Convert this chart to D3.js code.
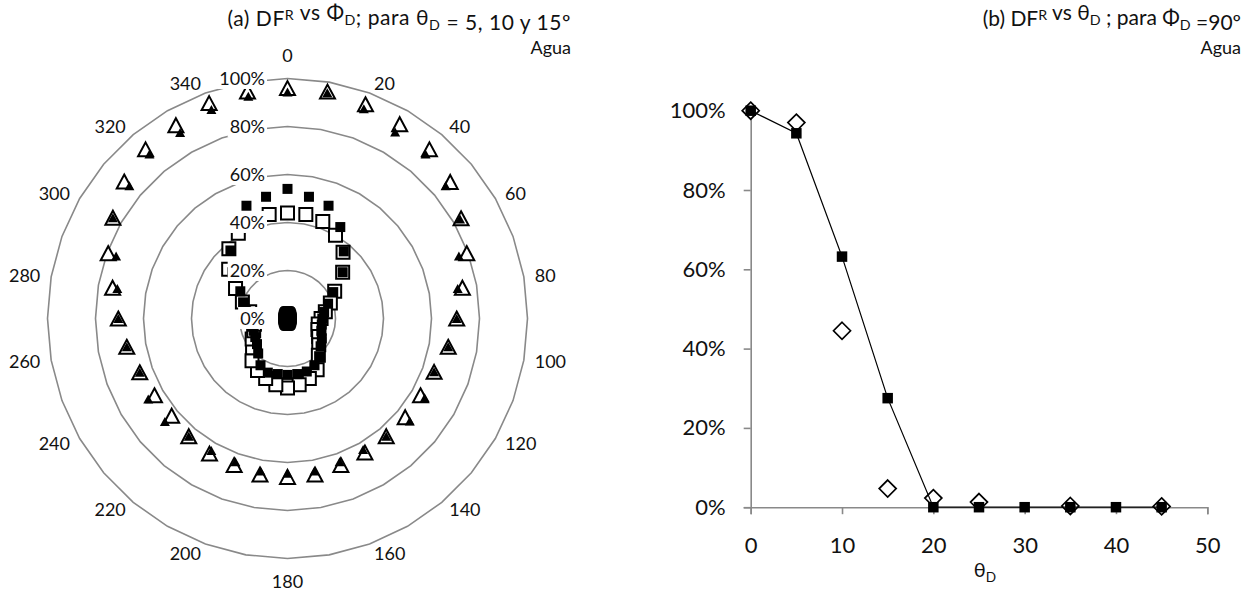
<!DOCTYPE html>
<html><head><meta charset="utf-8">
<script src="https://cdn.jsdelivr.net/npm/d3@7"></script>
<style>
html,body{margin:0;padding:0;background:#fff;}
svg{display:block;font-family:Lato,"Open Sans",sans-serif;}
</style></head><body>
<svg id="chart" width="1258" height="591"></svg>
<script>
// ---------- data: panel (a) radar, DF^R vs Phi_D ----------
const phiCategories = [0,10,20,30,40,50,60,70,80,90,100,110,120,130,140,150,160,170,180,190,200,210,220,230,240,250,260,270,280,290,300,310,320,330,340,350];
const phiTickLabels = ["0","","20","","40","","60","","80","","100","","120","","140","","160","","180","","200","","220","","240","","260","","280","","300","","320","","340",""];
const radialTicks = [0,0.2,0.4,0.6,0.8,1.0];
const radialTickLabels = ["0%","20%","40%","60%","80%","100%"];
// theta_D = 5 (open = experimental, filled = model)
const theta5Exp   = [0.96,0.96,0.95,0.935,0.92,0.885,0.835,0.795,0.74,0.705,0.68,0.65,0.64,0.64,0.64,0.645,0.65,0.66,0.66,0.66,0.65,0.65,0.64,0.63,0.64,0.655,0.68,0.705,0.74,0.795,0.84,0.888,0.92,0.93,0.955,0.96];
const theta5Model = [0.944,0.955,0.93,0.897,0.895,0.86,0.83,0.76,0.72,0.705,0.68,0.65,0.66,0.665,0.64,0.63,0.635,0.645,0.645,0.645,0.635,0.635,0.64,0.667,0.67,0.655,0.68,0.705,0.72,0.76,0.84,0.86,0.895,0.895,0.927,0.94];
// theta_D = 10
const theta10Exp   = [0.44,0.44,0.43,0.40,0.36,0.30,0.227,0.19,0.16,0.14,0.13,0.135,0.15,0.17,0.20,0.247,0.266,0.28,0.29,0.28,0.266,0.25,0.23,0.19,0.17,0.15,0.14,0.14,0.16,0.20,0.25,0.32,0.38,0.41,0.44,0.44];
const theta10Model = [0.54,0.515,0.50,0.44,0.365,0.30,0.22,0.18,0.155,0.145,0.145,0.15,0.165,0.18,0.205,0.225,0.235,0.235,0.235,0.235,0.24,0.225,0.19,0.166,0.155,0.15,0.15,0.16,0.175,0.197,0.227,0.30,0.37,0.44,0.50,0.515];
// theta_D = 15
const theta15Model = [0.03,0.029,0.027,0.024,0.021,0.019,0.017,0.016,0.016,0.016,0.016,0.016,0.017,0.019,0.021,0.024,0.027,0.029,0.03,0.029,0.027,0.024,0.021,0.019,0.017,0.016,0.016,0.016,0.016,0.016,0.017,0.019,0.021,0.024,0.027,0.029];

// ---------- data: panel (b) DF^R vs theta_D ----------
const thetaDModel = [0,5,10,15,20,25,30,35,40,45];
const dfModel     = [1.00,0.943,0.632,0.275,0,0,0,0,0,0];
const thetaDExp   = [0,5,10,15,20,25,35,45];
const dfExp       = [1.00,0.97,0.445,0.047,0.023,0.013,0.003,0.002];
const xTicks = [0,10,20,30,40,50];
const yTicks = [0,0.2,0.4,0.6,0.8,1.0];
const yTickLabels = ["0%","20%","40%","60%","80%","100%"];

const svg = d3.select("#chart");
const GRID = "#898989";

function richText(sel, parts, size){
  parts.forEach(p=>{
    if(p.sub){
      sel.append("tspan").attr("dy", size*0.25).attr("font-size", size*0.68).text(p.t);
      sel.append("tspan").attr("dy", -size*0.25).text("");
    } else if(p.sup){
      sel.append("tspan").attr("dy", -size*0.3).attr("font-size", size*0.68).text(p.t);
      sel.append("tspan").attr("dy", size*0.3).text("");
    } else {
      sel.append("tspan").text(p.t);
    }
  });
}
function fitWidth(sel, target){
  const n = sel.text().length;
  const w = sel.node().getComputedTextLength();
  if(n>1 && target > w) sel.attr("letter-spacing", (target - w)/(n-1));
}

// ================= Panel (a) =================
const cx = 287.5, cy = 318.5, R = 240;
const rScale = d3.scaleLinear().domain([0,1]).range([0,R]);
const aScale = d3.scaleLinear().domain([0,360]).range([0,2*Math.PI]);
const pt = (phi,v)=>[cx + rScale(v)*Math.sin(aScale(phi)), cy - rScale(v)*Math.cos(aScale(phi))];

const gA = svg.append("g");
const ringLine = d3.line().curve(d3.curveLinearClosed);
gA.selectAll("path.ring").data(radialTicks.filter(v=>v>0)).join("path")
  .attr("class","ring")
  .attr("d", v=>ringLine(phiCategories.map(p=>pt(p,v))))
  .attr("fill","none").attr("stroke",GRID).attr("stroke-width",1.6);

// category labels: anchored at a fixed offset ring, placed beside (left/right) or above/below
const labR = 250;
gA.selectAll("text.cat").data(phiCategories.map((p,i)=>({p,l:phiTickLabels[i]})).filter(d=>d.l!=="")).join("text")
  .attr("class","cat")
  .each(function(d){
    const a = aScale(d.p), s = Math.sin(a), c = Math.cos(a);
    const t = d3.select(this);
    if(Math.abs(s) < 0.01){
      t.attr("x", cx).attr("y", cy - labR*c - 13*Math.sign(c)).attr("text-anchor","middle");
    } else {
      t.attr("x", cx + labR*s + 1*Math.sign(s)).attr("y", cy - labR*c).attr("text-anchor", s>0 ? "start" : "end");
    }
  })
  .attr("dy","0.36em").attr("font-size",18).attr("fill","#111")
  .text(d=>d.l);

function triPath(w,h){return `M0,${-h/2}L${w/2},${h/2}L${-w/2},${h/2}Z`;}
function sqPath(s){return `M${-s/2},${-s/2}h${s}v${s}h${-s}Z`;}

function markers(data, path, fill, stroke, sw){
  gA.append("g").selectAll("path").data(data.map((v,i)=>pt(phiCategories[i],v))).join("path")
    .attr("transform", d=>`translate(${d[0]},${d[1]})`)
    .attr("d", path).attr("fill", fill).attr("stroke", stroke).attr("stroke-width", sw);
}
markers(theta5Exp, triPath(15,14), "#fff", "#000", 2);
markers(theta5Model, triPath(10,9), "#000", "none", 0);
markers(theta10Exp, sqPath(13), "#fff", "#000", 2);
markers(theta10Model, sqPath(10), "#000", "none", 0);
markers(theta15Model, sqPath(10.5), "#000", "none", 0);

// radial value labels with white boxes
const vl = gA.append("g");
radialTicks.forEach((v,i)=>{
  const g = vl.append("g");
  const t = g.append("text").attr("x", 265).attr("y", cy - rScale(v)).attr("dy","0.36em")
    .attr("text-anchor","end").attr("font-size",18).attr("fill","#111").text(radialTickLabels[i]);
  const bb = t.node().getBBox();
  g.insert("rect","text").attr("x",bb.x-2).attr("y",bb.y).attr("width",bb.width+4).attr("height",bb.height).attr("fill","#fff");
});

// titles
const tA = svg.append("text").attr("x",571).attr("y",26).attr("text-anchor","end").attr("font-size",21).attr("fill","#111");
richText(tA,[{t:"(a) DF"},{t:"R",sup:true},{t:" vs Φ"},{t:"D",sub:true},{t:"; para θ"},{t:"D",sub:true},{t:" = 5, 10 y 15º"}],21);
fitWidth(tA, 343);
svg.append("text").attr("x",571).attr("y",54).attr("text-anchor","end").attr("font-size",18).attr("fill","#111").text("Agua");

// ================= Panel (b) =================
const x = d3.scaleLinear().domain([0,50]).range([750.7,1207.3]);
const y = d3.scaleLinear().domain([0,1]).range([507.2,110.7]);
const gB = svg.append("g");

const yAxis = gB.append("g").attr("transform",`translate(${x(0)},0)`)
  .call(d3.axisLeft(y).tickValues(yTicks).tickFormat((d,i)=>yTickLabels[i]).tickSize(7).tickPadding(18));
const xAxis = gB.append("g").attr("transform",`translate(0,${y(0)})`)
  .call(d3.axisBottom(x).tickValues(xTicks).tickSize(7).tickPadding(23));
[yAxis,xAxis].forEach(a=>{
  a.select(".domain").attr("stroke",GRID).attr("stroke-width",1.6);
  a.selectAll(".tick line").attr("stroke",GRID).attr("stroke-width",1.6);
  a.selectAll(".tick text").attr("font-size",22).attr("fill","#111").attr("font-family","Lato,'Open Sans',sans-serif");
});

const tX = gB.append("text").attr("x",985).attr("y",577).attr("text-anchor","middle").attr("font-size",20).attr("fill","#111");
richText(tX,[{t:"θ"},{t:"D",sub:true}],20);

// experimental diamonds
gB.append("g").selectAll("path").data(thetaDExp.map((t,i)=>[x(t),y(dfExp[i])])).join("path")
  .attr("transform",d=>`translate(${d[0]},${d[1]})`)
  .attr("d","M0,-8.5L8.5,0L0,8.5L-8.5,0Z").attr("fill","#fff").attr("stroke","#000").attr("stroke-width",1.7);
// model line + squares
gB.append("path").datum(thetaDModel.map((t,i)=>[x(t),y(dfModel[i])]))
  .attr("d", d3.line()).attr("fill","none").attr("stroke","#000").attr("stroke-width",1.2);
gB.append("g").selectAll("path").data(thetaDModel.map((t,i)=>[x(t),y(dfModel[i])])).join("path")
  .attr("transform",d=>`translate(${d[0]},${d[1]})`)
  .attr("d",sqPath(10.5)).attr("fill","#000");

const tB = svg.append("text").attr("x",1241).attr("y",26).attr("text-anchor","end").attr("font-size",21).attr("fill","#111");
richText(tB,[{t:"(b) DF"},{t:"R",sup:true},{t:" vs θ"},{t:"D",sub:true},{t:" ; para Φ"},{t:"D",sub:true},{t:" =90º"}],21);
fitWidth(tB, 258);
svg.append("text").attr("x",1241).attr("y",54).attr("text-anchor","end").attr("font-size",18).attr("fill","#111").text("Agua");
</script>
</body></html>
